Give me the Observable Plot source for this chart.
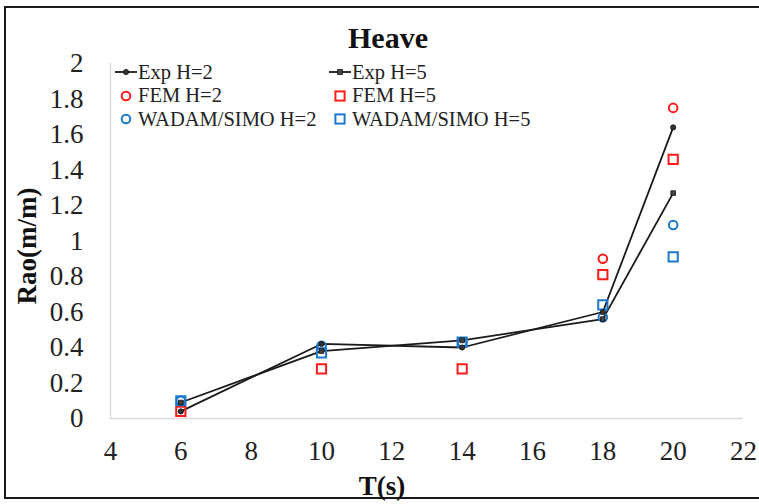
<!DOCTYPE html>
<html>
<head>
<meta charset="utf-8">
<script src="https://cdn.jsdelivr.net/npm/d3@7"></script>
<script src="https://cdn.jsdelivr.net/npm/@observablehq/plot@0.6"></script>
<style>
  html, body { margin: 0; padding: 0; background: #fff; overflow: hidden; }
  #wrap { position: relative; width: 759px; height: 504px; overflow: hidden; background: #fff; }
  #frame { position: absolute; left: 4px; top: 6px; width: 800px; height: 493px; border: 2.5px solid #1a1a1a; border-right: none; box-sizing: border-box; }
  #chart { position: absolute; left: 0; top: 0; }
  #chart svg text { font-family: "Liberation Serif", "Times New Roman", serif; }
  #chart g[aria-label$="tick label"] { font-size: 27px; }
  #legend { position: absolute; left: 0; top: 0; font-family: "Liberation Serif", "Times New Roman", serif; font-size: 20.5px; color: #222; }
  .item { position: absolute; display: flex; align-items: center; white-space: nowrap; }
  .item svg { display: block; }
</style>
</head>
<body>
<div id="wrap">
  <div id="frame"></div>
  <div id="chart"></div>
  <div id="legend"></div>
</div>
<script>
// Wave periods T(s)
const periods = [6, 10, 14, 18, 20];
// Series values (Rao, m/m)
const expH2   = [0.04, 0.42, 0.40, 0.60, 1.64];
const expH5   = [0.09, 0.38, 0.44, 0.56, 1.27];
const femH2T  = [18, 20];
const femH2   = [0.90, 1.75];
const femH5   = [0.04, 0.28, 0.28, 0.81, 1.46];
const wadamH2 = [0.10, 0.41, 0.43, 0.57, 1.09];
const wadamH5 = [0.10, 0.37, 0.43, 0.64, 0.91];
// Axis ticks
const xTicks = [4, 6, 8, 10, 12, 14, 16, 18, 20, 22];
const yTicks = [0, 0.2, 0.4, 0.6, 0.8, 1, 1.2, 1.4, 1.6, 1.8, 2];
const seriesNames = ["Exp H=2", "Exp H=5", "FEM H=2", "FEM H=5", "WADAM/SIMO H=2", "WADAM/SIMO H=5"];

const RED = "#ff1a1a", BLUE = "#1b78cc";
const toRows = (xs, ys) => xs.map((t, i) => ({t, v: ys[i]}));
const rExp2 = toRows(periods, expH2);
const rExp5 = toRows(periods, expH5);
const rFem2 = toRows(femH2T, femH2);
const rFem5 = toRows(periods, femH5);
const rWad2 = toRows(periods, wadamH2);
const rWad5 = toRows(periods, wadamH5);

const serif = "Liberation Serif, Times New Roman, serif";

const chart = Plot.plot({
  width: 759,
  height: 504,
  marginLeft: 110,
  marginRight: 16,
  marginTop: 63,
  marginBottom: 86,
  style: { fontFamily: serif, background: "transparent", overflow: "visible" },
  x: { domain: [4, 22] },
  y: { domain: [0, 2] },
  marks: [
    Plot.ruleY([0], { stroke: "#d9d9d9", strokeWidth: 1.5 }),
    Plot.ruleX([4], { stroke: "#d9d9d9", strokeWidth: 1.5 }),
    Plot.axisX({ ticks: xTicks, tickSize: 0, tickPadding: 22, fontSize: 27, fontFamily: serif, label: null, tickFormat: d => String(d), fill: "#222" }),
    Plot.axisY({ ticks: yTicks, tickSize: 0, tickPadding: 27, fontSize: 27, fontFamily: serif, label: null, tickFormat: d => String(+d.toFixed(1)), fill: "#222" }),
    Plot.line(rExp2, { x: "t", y: "v", stroke: "#1a1a1a", strokeWidth: 1.8 }),
    Plot.line(rExp5, { x: "t", y: "v", stroke: "#1a1a1a", strokeWidth: 1.8 }),
    Plot.dot(rFem5, { x: "t", y: "v", symbol: "square", r: 5.2, stroke: RED, strokeWidth: 2, fill: "none" }),
    Plot.dot(rFem2, { x: "t", y: "v", symbol: "circle", r: 4.3, stroke: RED, strokeWidth: 2, fill: "none" }),
    Plot.dot(rWad5, { x: "t", y: "v", symbol: "square", r: 5.2, stroke: BLUE, strokeWidth: 2, fill: "none" }),
    Plot.dot(rWad2, { x: "t", y: "v", symbol: "circle", r: 4.3, stroke: BLUE, strokeWidth: 2, fill: "none" }),
    Plot.dot(rExp2, { x: "t", y: "v", symbol: "circle", r: 2.6, fill: "#333", stroke: "#111", strokeWidth: 0.8 }),
    Plot.dot(rExp5, { x: "t", y: "v", symbol: "square", r: 2.6, fill: "#444", stroke: "#111", strokeWidth: 0.8 }),
    Plot.text(["Heave"], { frameAnchor: "top", textAnchor: "middle", lineAnchor: "middle", dx: -39, dy: -25, text: d => d, fontSize: 30, fontFamily: serif, fontWeight: "bold", fill: "#111" }),
    Plot.text(["T(s)"], { frameAnchor: "bottom", textAnchor: "middle", lineAnchor: "middle", dx: -45, dy: 68, text: d => d, fontSize: 27, fontFamily: serif, fontWeight: "bold", fill: "#111" }),
    Plot.text(["Rao(m/m)"], { frameAnchor: "left", textAnchor: "middle", lineAnchor: "middle", dx: -83, dy: 5, rotate: -90, text: d => d, fontSize: 27, fontFamily: serif, fontWeight: "bold", fill: "#111" })
  ]
});
document.getElementById("chart").appendChild(chart);

// Legend (HTML overlay inside the plot area)
function markerSvg(kind) {
  let s;
  if (kind === "expC" || kind === "expS") {
    s = `<svg width="24" height="12"><line x1="1" y1="6" x2="23" y2="6" stroke="#1a1a1a" stroke-width="1.8"/>` +
      (kind === "expC" ? `<circle cx="12" cy="6" r="2.6" fill="#333" stroke="#111" stroke-width="0.8"/>`
                       : `<rect x="9.6" y="3.6" width="4.8" height="4.8" fill="#444" stroke="#111" stroke-width="0.8"/>`) + `</svg>`;
  } else {
    const col = kind.startsWith("r") ? RED : BLUE;
    s = `<svg width="24" height="14">` +
      (kind.endsWith("C") ? `<circle cx="12" cy="7" r="4.3" fill="none" stroke="${col}" stroke-width="2"/>`
                          : `<rect x="7.4" y="2.4" width="9.2" height="9.2" fill="none" stroke="${col}" stroke-width="2"/>`) + `</svg>`;
  }
  return s;
}
const legendItems = [
  { name: seriesNames[0], kind: "expC", col: 0, row: 0 },
  { name: seriesNames[1], kind: "expS", col: 1, row: 0 },
  { name: seriesNames[2], kind: "rC", col: 0, row: 1 },
  { name: seriesNames[3], kind: "rS", col: 1, row: 1 },
  { name: seriesNames[4], kind: "bC", col: 0, row: 2 },
  { name: seriesNames[5], kind: "bS", col: 1, row: 2 }
];
const leg = document.getElementById("legend");
for (const it of legendItems) {
  const d = document.createElement("div");
  d.className = "item";
  d.style.left = (it.col === 0 ? 114 : 328) + "px";
  d.style.top = (60 + it.row * 23.5) + "px";
  d.style.height = "24px";
  d.innerHTML = markerSvg(it.kind) + `<span>${it.name}</span>`;
  leg.appendChild(d);
}
</script>
</body>
</html>
